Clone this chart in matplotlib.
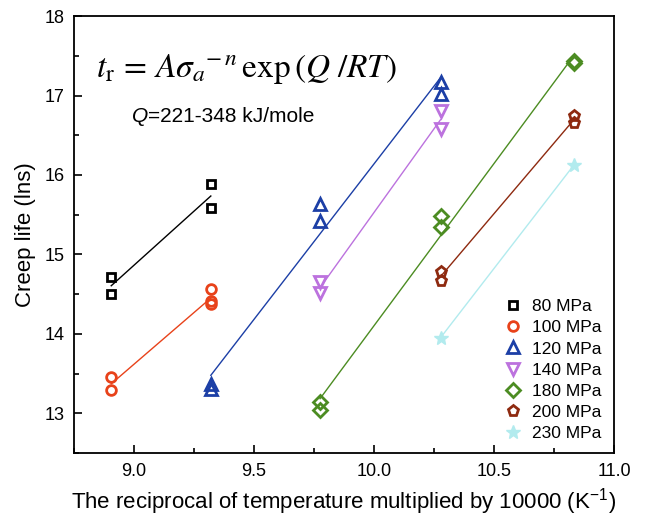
import numpy as np
import matplotlib
matplotlib.use("Agg")
import matplotlib.pyplot as plt
from matplotlib.ticker import MultipleLocator

plt.rcParams['font.family'] = ['Liberation Sans', 'DejaVu Sans']
plt.rcParams['mathtext.fontset'] = 'stix'

# Data: x = 10000/T, y = ln(creep life)
labels = ["80 MPa", "100 MPa", "120 MPa", "140 MPa", "180 MPa", "200 MPa", "230 MPa"]
x_80 = [8.905, 8.905, 9.320, 9.320]
y_80 = [14.71, 14.50, 15.88, 15.59]
x_100 = [8.905, 8.905, 9.320, 9.320, 9.320]
y_100 = [13.45, 13.29, 14.57, 14.41, 14.37]
x_120 = [9.320, 9.320, 9.775, 9.775, 10.277, 10.277]
y_120 = [13.37, 13.30, 15.64, 15.42, 17.17, 17.02]
x_140 = [9.775, 9.775, 10.277, 10.277]
y_140 = [14.65, 14.51, 16.81, 16.58]
x_180 = [9.775, 9.775, 10.277, 10.277, 10.834, 10.834]
y_180 = [13.14, 13.04, 15.48, 15.34, 17.44, 17.41]
x_200 = [10.277, 10.277, 10.834, 10.834]
y_200 = [14.78, 14.66, 16.74, 16.66]
x_230 = [10.277, 10.834]
y_230 = [13.95, 16.13]

xs = [x_80, x_100, x_120, x_140, x_180, x_200, x_230]
ys = [y_80, y_100, y_120, y_140, y_180, y_200, y_230]
colors = ["#000000", "#E8421A", "#1C3FA6", "#BC72DE", "#4C8C22", "#8E2A10", "#B2EBEE"]
markers = ["s", "o", "^", "v", "D", "p", "*"]
msizes = [6, 7, 8, 8, 7, 8, 10]

fig = plt.figure(figsize=(6.46, 5.20), dpi=100)
ax = fig.add_axes([0.1146, 0.129, 0.8359, 0.840])

for x, y, c, m, ms, lab in zip(xs, ys, colors, markers, msizes, labels):
    x = np.array(x); y = np.array(y)
    k, b = np.polyfit(x, y, 1)
    xl = np.array([x.min(), x.max()])
    ax.plot(xl, k * xl + b, color=c, lw=1.0, zorder=2)
    if m == "*":
        ax.plot(x, y, ls='none', marker=m, ms=ms, mfc=c, mec=c, mew=1.0, label=lab, zorder=3)
    else:
        ax.plot(x, y, ls='none', marker=m, ms=ms, mfc='none', mec=c, mew=2.0, label=lab, zorder=3)

ax.set_xlim(8.75, 11.0)
ax.set_ylim(12.5, 18.0)
ax.xaxis.set_major_locator(MultipleLocator(0.5))
ax.xaxis.set_minor_locator(MultipleLocator(0.25))
ax.yaxis.set_major_locator(MultipleLocator(1))
ax.yaxis.set_minor_locator(MultipleLocator(0.5))
ax.tick_params(which='both', direction='in', top=False, right=False, labelsize=13, width=1.2)
ax.tick_params(which='major', length=6, pad=7)
ax.tick_params(which='minor', length=3.5)
ax.xaxis.set_major_formatter(matplotlib.ticker.FormatStrFormatter('%.1f'))
for s in ax.spines.values():
    s.set_linewidth(1.3)

ax.set_xlabel("The reciprocal of temperature multiplied by 10000 (K$^{\\mathregular{-1}}$)", fontsize=16, labelpad=5)
ax.set_ylabel("Creep life (lns)", fontsize=16, labelpad=6)

ax.text(0.04, 0.88, r"$t_{\mathrm{r}}\,=\,A\sigma_a{}^{-\,n}\,\mathrm{exp}\,(Q\ /RT)$",
        transform=ax.transAxes, fontsize=24, va='center', ha='left')
tq = ax.text(0.107, 0.77, "Q", transform=ax.transAxes, style='italic',
             fontsize=15, va='center', ha='left')
ax.annotate("=221-348 kJ/mole", xy=(1.0, 0.5), xycoords=tq, fontsize=15,
            va='center', ha='left')

ax.legend(loc='lower right', bbox_to_anchor=(1.0, 0.0), frameon=False, fontsize=12.5,
          handlelength=1.0, handletextpad=0.6, labelspacing=0.34, borderaxespad=0.3)

fig.savefig("out.png", dpi=100)
